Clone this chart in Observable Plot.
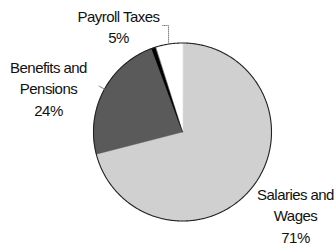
<!DOCTYPE html>
<html><head><meta charset="utf-8">
<script src="https://cdn.jsdelivr.net/npm/d3@7"></script>
<script src="https://cdn.jsdelivr.net/npm/@observablehq/plot@0.6"></script>
<style>
html,body{margin:0;padding:0;background:#fff;}
svg text{font-family:"Liberation Sans",Arial,sans-serif;letter-spacing:-0.55px;}
</style>
</head><body>
<div id="chart"></div>
<script>
// ---- data ----
const categories = ["Salaries and Wages", "Benefits and Pensions", "Payroll Taxes"];
const shares = [71, 24, 5];
const labelLines = ["Salaries and\nWages\n71%", "Benefits and\nPensions\n24%", "Payroll Taxes\n5%"];

// ---- layout ----
const W = 334, H = 245, R = 89, CX = 182, CY = 131.5;
const colors = ["#d0d0d0", "#5a5a5a", "#ffffff"];

const pie = d3.pie().sort(null).value(d => d)(shares);
const slices = pie.map((p, i) => {
  const pts = [{x: 0, y: 0}];
  const n = Math.max(2, Math.ceil((p.endAngle - p.startAngle) / 0.01));
  for (let k = 0; k <= n; k++) {
    const a = p.startAngle + (p.endAngle - p.startAngle) * k / n;
    pts.push({x: Math.sin(a), y: Math.cos(a)});
  }
  return {cat: categories[i], pts, mid: (p.startAngle + p.endAngle) / 2, start: p.startAngle, end: p.endAngle};
});

// thin black sliver at the benefits / payroll boundary
const b = slices[2].start;
const sliver = [{x: 0, y: 0}, {x: Math.sin(b - 0.04), y: Math.cos(b - 0.04)}, {x: Math.sin(b + 0.004), y: Math.cos(b + 0.004)}];

// leader lines (from rim at slice mid angle)
const rim = a => ({x: Math.sin(a), y: Math.cos(a)});
const pm = rim(slices[2].mid);
const payLeader = [pm, {x: pm.x, y: (CY - 25) / R}, {x: (162 - CX) / R, y: (CY - 25) / R}];
const bm = rim(slices[1].mid);
const benLeader = [bm, {x: bm.x * 1.07, y: bm.y * 1.07}];

// label anchor positions (layout)
const labelPos = [
  {x: (295 - CX) / R, y: (CY - 214) / R},
  {x: (48 - CX) / R, y: (CY - 87) / R},
  {x: (118 - CX) / R, y: (CY - 25) / R}
];
const labels = labelLines.map((t, i) => ({text: t, ...labelPos[i]}));

const marks = [];
slices.forEach((s, i) => {
  marks.push(Plot.line(s.pts, {x: "x", y: "y", curve: "linear-closed", fill: colors[i], stroke: colors[i], strokeWidth: 0.5}));
});
marks.push(Plot.line(sliver, {x: "x", y: "y", curve: "linear-closed", fill: "#000", stroke: "#000", strokeWidth: 0.5}));
const rimPts = d3.range(0, 629).map(k => rim(k / 100));
marks.push(Plot.line(rimPts, {x: "x", y: "y", curve: "linear-closed", stroke: "#222", strokeWidth: 1.1}));
marks.push(Plot.line(payLeader, {x: "x", y: "y", stroke: "#888", strokeWidth: 1, strokeDasharray: "1,1"}));
marks.push(Plot.line(benLeader, {x: "x", y: "y", stroke: "#888", strokeWidth: 1}));
marks.push(Plot.text(labels, {x: "x", y: "y", text: "text", fontSize: 15, lineHeight: 1.45, fill: "#111", textAnchor: "middle"}));

const chart = Plot.plot({
  width: W, height: H,
  margin: 0,
  x: {domain: [-CX / R, (W - CX) / R], range: [0, W], axis: null},
  y: {domain: [-(H - CY) / R, CY / R], range: [H, 0], axis: null},
  style: {background: "#fff", overflow: "visible"},
  marks
});
document.getElementById("chart").appendChild(chart);
</script>
</body></html>
